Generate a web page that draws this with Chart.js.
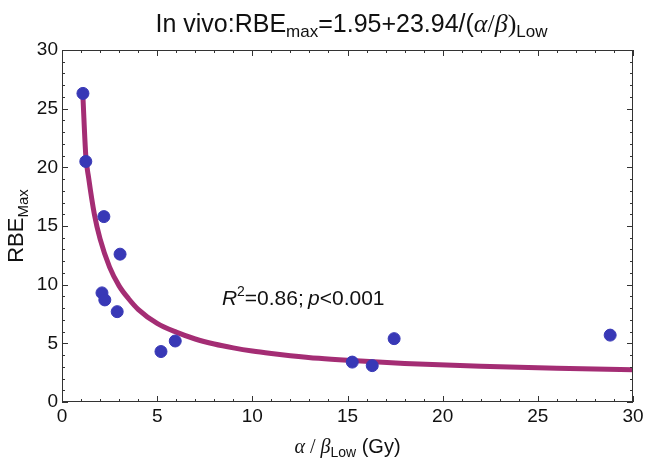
<!DOCTYPE html>
<html>
<head>
<meta charset="utf-8">
<script src="https://cdn.jsdelivr.net/npm/chart.js@4/dist/chart.umd.min.js"></script>
<style>
  html, body { margin: 0; padding: 0; background: #fff; }
  #wrap { width: 647px; height: 462px; }
</style>
</head>
<body>
<div id="wrap"><canvas id="myChart" width="647" height="462"></canvas></div>
<script>
"use strict";

// measured points (alpha/beta low, RBEmax)
const ratioLow = [1.1, 1.25, 2.2, 3.05, 2.1, 2.25, 2.9, 5.2, 5.95, 15.25, 16.3, 17.45, 28.8];
const rbeMax = [26.3, 20.5, 15.8, 12.6, 9.3, 8.7, 7.7, 4.3, 5.2, 3.4, 3.1, 5.4, 5.7];

// fitted curve
const fitX = [1.1, 1.25, 1.4, 1.7, 2.0, 2.5, 3.0, 3.5, 4.0, 5.0, 6.0, 7.0, 8.0, 9.0, 10, 11, 12, 13.5, 15, 18, 22, 26, 30];
const fitY = [26.0, 21.0, 19.1, 16.0, 13.9, 11.5, 9.9, 8.8, 7.9, 6.7, 5.95, 5.37, 4.94, 4.61, 4.34, 4.13, 3.95, 3.72, 3.55, 3.28, 3.04, 2.87, 2.75];

// axis ticks
const xTicks = [0, 5, 10, 15, 20, 25, 30];
const yTicks = [0, 5, 10, 15, 20, 25, 30];

const SANS = "'Liberation Sans', Arial, sans-serif";
const SERIF = "'Liberation Serif', 'Times New Roman', serif";

const points = ratioLow.map((x, i) => ({ x: x, y: rbeMax[i] }));
const curve = fitX.map((x, i) => ({ x: x, y: fitY[i] }));

// draw a run of text pieces with their own font and baseline offset
function richWidth(ctx, parts) {
  let w = 0;
  parts.forEach(function (p) {
    ctx.font = p.font;
    w += ctx.measureText(p.t).width;
  });
  return w;
}
function richText(ctx, parts, x, y) {
  parts.forEach(function (p) {
    ctx.font = p.font;
    ctx.fillText(p.t, x, y + (p.dy || 0));
    x += ctx.measureText(p.t).width;
  });
}

const framePlugin = {
  id: "frame",
  afterDraw(chart) {
    const ctx = chart.ctx;
    const a = chart.chartArea;
    const xs = chart.scales.x;
    const ys = chart.scales.y;
    ctx.save();
    ctx.strokeStyle = "#333";
    ctx.lineWidth = 1;
    ctx.strokeRect(a.left + 0.5, a.top + 0.5, a.right - a.left - 1, a.bottom - a.top - 1);

    // inward ticks on all four sides
    ctx.beginPath();
    for (let v = 0; v <= 30; v++) {
      const len = v % 5 === 0 ? 6 : 3;
      const px = Math.round(xs.getPixelForValue(v)) + 0.5;
      ctx.moveTo(px, a.bottom);
      ctx.lineTo(px, a.bottom - len);
      ctx.moveTo(px, a.top);
      ctx.lineTo(px, a.top + len);
      const py = Math.round(ys.getPixelForValue(v)) + 0.5;
      ctx.moveTo(a.left, py);
      ctx.lineTo(a.left + len, py);
      ctx.moveTo(a.right, py);
      ctx.lineTo(a.right - len, py);
    }
    ctx.stroke();

    ctx.fillStyle = "#111";
    ctx.textBaseline = "alphabetic";

    // title
    const title = [
      { t: "In vivo:RBE", font: "25px " + SANS },
      { t: "max", font: "17px " + SANS, dy: 5 },
      { t: "=1.95+23.94/(", font: "25px " + SANS },
      { t: "\u03b1", font: "italic 26px " + SERIF },
      { t: "/", font: "26px " + SERIF },
      { t: "\u03b2", font: "italic 26px " + SERIF },
      { t: ")", font: "26px " + SERIF },
      { t: "Low", font: "17px " + SANS, dy: 5 }
    ];
    const cx = (a.left + a.right) / 2;
    richText(ctx, title, cx - richWidth(ctx, title) / 2 + 4, 32);

    // x axis title
    const xt = [
      { t: "\u03b1", font: "italic 20px " + SERIF },
      { t: " / ", font: "20px " + SERIF },
      { t: "\u03b2", font: "italic 20px " + SERIF },
      { t: "Low", font: "14px " + SANS, dy: 4 },
      { t: " (Gy)", font: "20px " + SANS }
    ];
    richText(ctx, xt, cx - richWidth(ctx, xt) / 2, 453);

    // y axis title
    const yt = [
      { t: "RBE", font: "22px " + SANS },
      { t: "Max", font: "15px " + SANS, dy: 5 }
    ];
    ctx.save();
    ctx.translate(23, (a.top + a.bottom) / 2);
    ctx.rotate(-Math.PI / 2);
    richText(ctx, yt, -richWidth(ctx, yt) / 2, 0);
    ctx.restore();

    // fit statistics
    const note = [
      { t: "R", font: "italic 21px " + SANS },
      { t: "2", font: "14px " + SANS, dy: -9 },
      { t: "=0.86;\u2009", font: "21px " + SANS },
      { t: "p", font: "italic 21px " + SANS },
      { t: "<0.001", font: "21px " + SANS }
    ];
    richText(ctx, note, xs.getPixelForValue(8.4), ys.getPixelForValue(8.3));
    ctx.restore();
  }
};

const config = {
  type: "scatter",
  data: {
    datasets: [
      {
        label: "fit",
        data: curve,
        showLine: true,
        borderColor: "#a42d74",
        borderWidth: 5,
        pointRadius: 0,
        cubicInterpolationMode: "monotone",
        order: 2
      },
      {
        label: "in vivo",
        data: points,
        backgroundColor: "#3838b6",
        borderColor: "#3838b6",
        pointRadius: 6,
        pointHoverRadius: 6,
        order: 1
      }
    ]
  },
  options: {
    responsive: false,
    animation: false,
    layout: { padding: { left: 0, right: 14, top: 50, bottom: 0 } },
    plugins: { legend: { display: false }, tooltip: { enabled: false } },
    scales: {
      x: {
        type: "linear",
        min: 0,
        max: 30,
        afterBuildTicks: function (s) { s.ticks = xTicks.map(v => ({ value: v })); },
        afterFit: function (s) { s.height = 60; },
        grid: { display: false, drawTicks: false },
        border: { display: false },
        ticks: { padding: 3, color: "#111", font: { family: SANS, size: 19 } }
      },
      y: {
        type: "linear",
        min: 0,
        max: 30,
        afterBuildTicks: function (s) { s.ticks = yTicks.map(v => ({ value: v })); },
        afterFit: function (s) { s.width = 62; },
        grid: { display: false, drawTicks: false },
        border: { display: false },
        ticks: { padding: 4, color: "#111", font: { family: SANS, size: 19 } }
      }
    }
  },
  plugins: [framePlugin]
};

const myChart = new Chart(document.getElementById("myChart"), config);
</script>
</body>
</html>
